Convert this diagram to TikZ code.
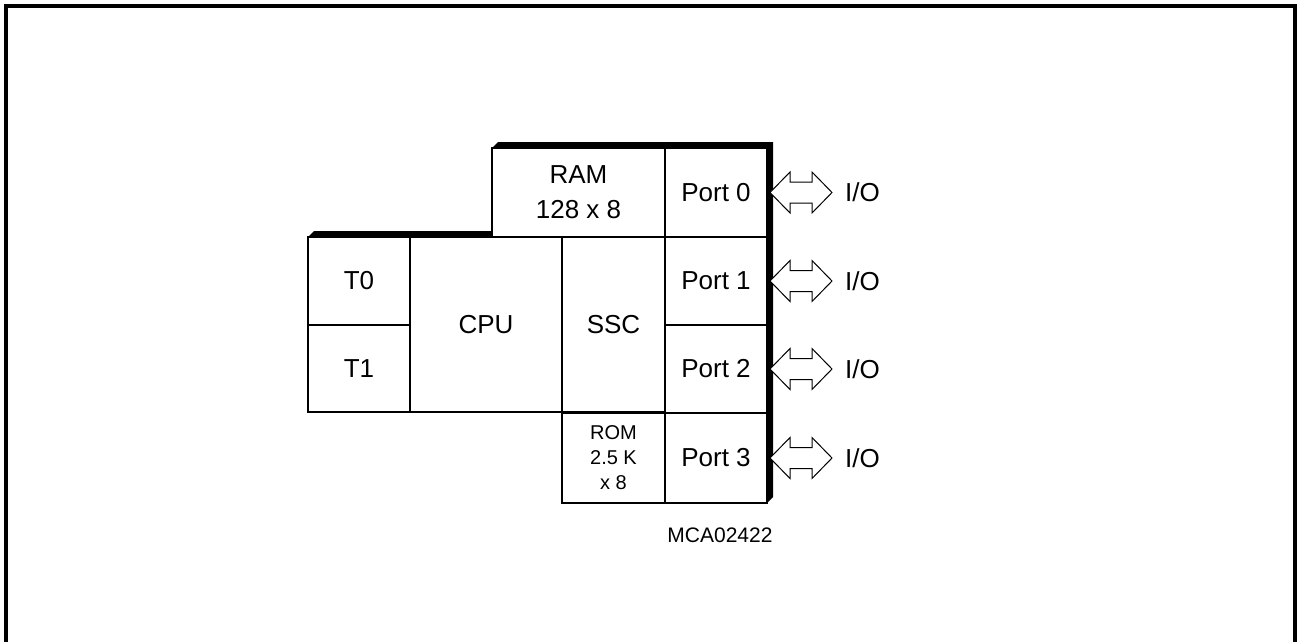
\documentclass[tikz,border=0pt]{standalone}
\usepackage{fontspec}
\setmainfont{Liberation Sans}
\usepackage{tikz}
\usetikzlibrary{positioning, backgrounds}

\begin{document}
\begin{tikzpicture}[x=1pt, y=-1pt,
    box/.style={draw, fill=white, line width=2.5pt, outer sep=0pt, inner sep=0pt, align=center, font=\fontsize{26}{35}\selectfont},
    ioarrow/.style={draw, fill=white, line width=1pt, line join=miter},
    iolabel/.style={inner sep=0pt, anchor=west, font=\fontsize{26}{30}\selectfont}]
  \useasboundingbox (0,0) rectangle (1298,642);
  \draw[line width=4pt] (6,642) -- (6,6) -- (1295,6) -- (1295,642);

  \node[box, minimum width=102pt, minimum height=88pt] (t0) at (359,281) {T0};
  \node[box, minimum width=102pt, minimum height=87pt] (t1) at (359,368.5) {T1};
  \node[box, minimum width=152pt, minimum height=175pt] (cpu) at (486,324.5) {CPU};
  \node[box, minimum width=103pt, minimum height=175pt] (ssc) at (613.5,324.5) {SSC};
  \node[box, minimum width=173pt, minimum height=89pt] (ram) at (578.5,192.5) {RAM\\128 x 8};
  \node[box, minimum width=103pt, minimum height=90pt, font=\fontsize{20}{25}\selectfont] (rom) at (613.5,458) {ROM\\2.5 K\\x 8};
  \node[box, minimum width=102pt, minimum height=89pt] (p0) at (716,192.5) {Port 0};
  \node[box, minimum width=102pt, minimum height=88pt] (p1) at (716,281) {Port 1};
  \node[box, minimum width=102pt, minimum height=88pt] (p2) at (716,369) {Port 2};
  \node[box, minimum width=102pt, minimum height=90pt] (p3) at (716,458) {Port 3};

  \begin{scope}[on background layer]
    \fill (t0.north west) -- ++(6,-6) -- ([yshift=6pt]ram.south west) -- (ram.north west) -- ++(6,-6)
      -- ([xshift=6pt,yshift=6pt]p0.north east) -- ([xshift=6pt,yshift=6pt]p3.south east)
      -- (p3.south east) -- (rom.south west) -- (rom.north west) -- (t1.south west) -- cycle;
  \end{scope}

  \foreach \p in {0,...,3} {
    \draw[ioarrow] ([xshift=3pt]p\p.east) -- ++(20,-20.5) -- ++(0,10) -- ++(22,0) -- ++(0,-10)
      -- ++(20,20.5) -- ++(-20,20.5) -- ++(0,-10) -- ++(-22,0) -- ++(0,10) -- cycle;
    \node[iolabel] (io\p) at ([xshift=78pt]p\p.east) {I/O};
  }

  \node[font=\fontsize{21}{24}\selectfont] (code) at (720,535) {MCA02422};
\end{tikzpicture}
\end{document}
